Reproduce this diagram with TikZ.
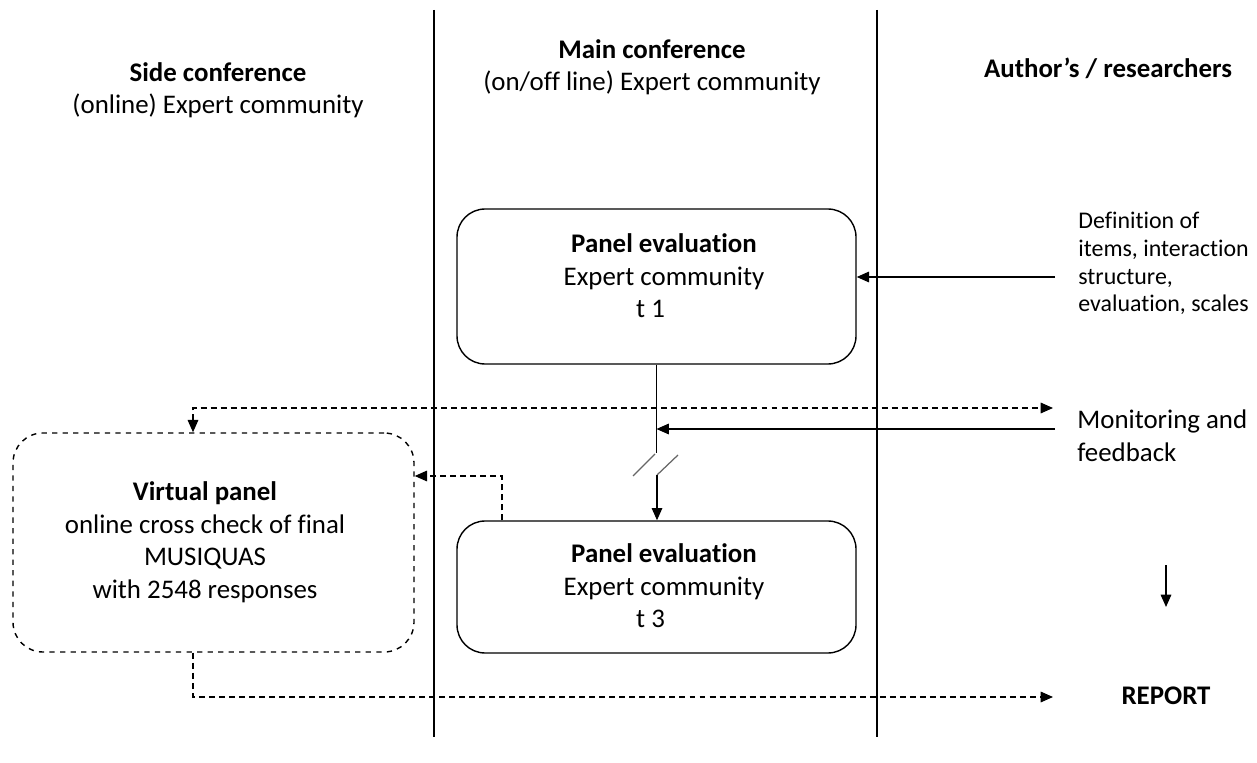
\documentclass[tikz,border=0pt]{standalone}
\usepackage{fontspec}
\setmainfont{Carlito}[Ligatures=NoCommon]
\usetikzlibrary{arrows.meta, positioning}

\begin{document}
\begin{tikzpicture}[x=0.02cm, y=-0.02cm,
  every node/.style={font=\fontsize{15.3pt}{18.5pt}\selectfont, align=center, inner sep=0pt},
  panel/.style={draw, line width=0.8pt, rounded corners=16pt, minimum width=399*0.02cm},
  vpanel/.style={draw, dashed, line width=0.8pt, rounded corners=17pt, minimum width=401*0.02cm, minimum height=219*0.02cm},
  lane/.style={line width=0.9pt},
  arr/.style={line width=0.8pt, -{Triangle[length=7pt, width=6pt]}},
  dsh/.style={line width=0.8pt, dash pattern=on 3.4pt off 2.3pt},
  >={Triangle[length=7pt, width=6pt]}]
\useasboundingbox (0,0) rectangle (1257,763);

% swim lanes
\draw [lane] (434,10) -- (434,737);
\draw [lane] (877,10) -- (877,737);

% headers
\node (side) at (218,90) {\textbf{Side conference}\\(online) Expert community};
\node (main) at (652,67) {\textbf{Main conference}\\(on/off line) Expert community};
\node (auth) at (1108,68) {\textbf{Author's / researchers}};

% panels
\node [panel, minimum height=155*0.02cm] (p1) at (656.5,286.5) {};
\node (p1txt) at (664,276) {\textbf{Panel evaluation}\\Expert community\\t 1\hspace*{1em}};
\node [panel, minimum height=132*0.02cm] (p2) at (656.5,587) {};
\node (p2txt) at (664,586) {\textbf{Panel evaluation}\\Expert community\\t 3\hspace*{1em}};
\node [vpanel] (vp) at (213.5,542.5) {};
\node (vptxt) at (205,542) {\textbf{Virtual panel}\\online cross check of final\\MUSIQUAS\\with 2548 responses};

% right column
\node [anchor=west, align=left, font=\fontsize{13.6pt}{15.8pt}\selectfont] (defn) at (1078,263.5) {Definition of\\items, interaction\\structure,\\evaluation, scales};
\node [anchor=west, align=left] (monit) at (1077,436) {Monitoring and\\feedback};
\node (report) at (1166,696) {\textbf{REPORT}};

\coordinate (defin) at (1055,277);
\coordinate (monin) at (1055,429);
\coordinate (monout) at (1053,408);
\coordinate (vtop) at (193,408);
\coordinate (fbk) at (502,476);
\coordinate (rep) at (193,697);
\coordinate (repend) at (1053,697);
\coordinate (brkA) at (656.5,453);
\coordinate (brkB) at (657,475);
\coordinate (dnA) at (1166,565);
\coordinate (dnB) at (1166,607);

% connectors
\draw [arr] (defin) -- (defin -| p1.east);
\draw [lane] (p1.south) -- (brkA);
\draw [line width=0.7pt, gray!80!black] (633,476) -- (655,454);
\draw [line width=0.7pt, gray!80!black] (657,475) -- (678,455);
\draw [arr] (brkB) -- (brkB |- p2.north);
\draw [arr] (monin) -- (monin -| brkA);
\draw [dsh, <->] (vtop |- vp.north) -- (vtop) -- (monout);
\draw [dsh, ->] (fbk |- p2.north) -- (fbk) -- (fbk -| vp.east);
\draw [dsh, ->] (rep |- vp.south) -- (rep) -- (repend);
\draw [arr] (dnA) -- (dnB);
\end{tikzpicture}
\end{document}
